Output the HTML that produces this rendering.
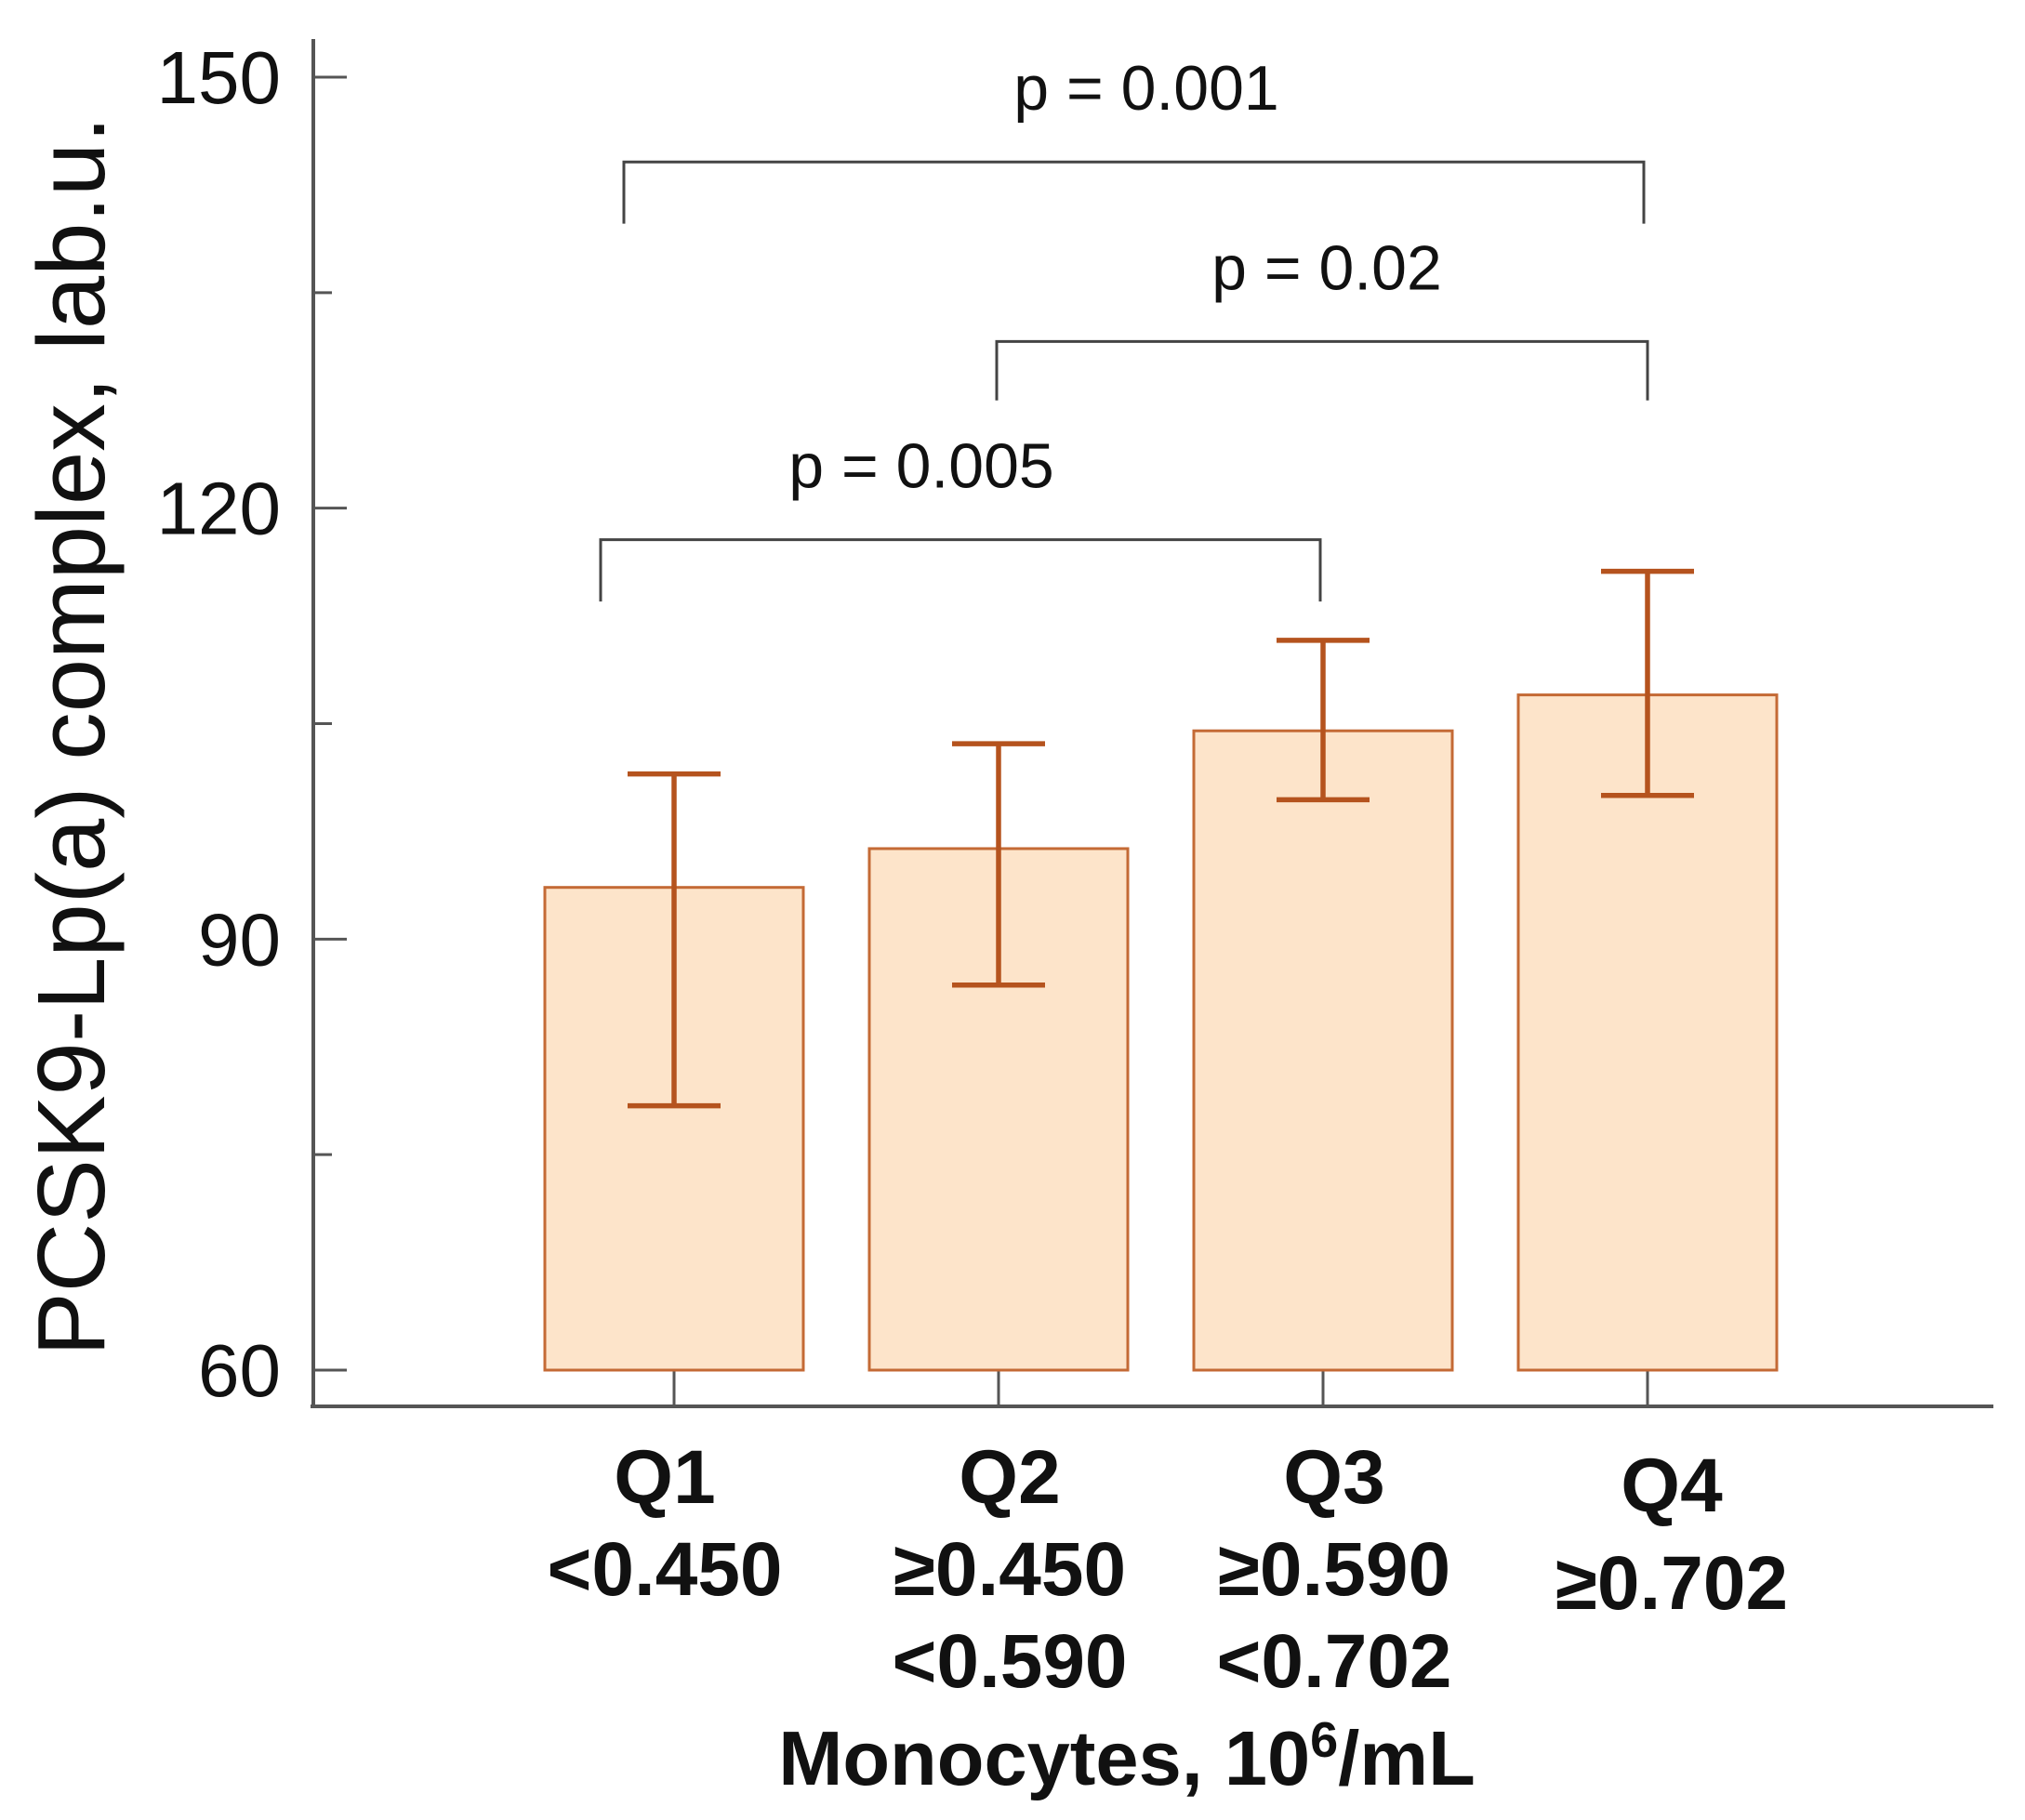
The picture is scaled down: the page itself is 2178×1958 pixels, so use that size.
<!DOCTYPE html>
<html><head><meta charset="utf-8"><style>
html,body{margin:0;padding:0;background:#fff;}
svg{display:block;font-family:"Liberation Sans",Arial,sans-serif;}
</style></head><body>
<svg id="chart" width="2178" height="1958" viewBox="0 0 2178 1958" xmlns="http://www.w3.org/2000/svg">
<g id="axes"></g><g id="bars"></g><g id="brackets"></g><g id="labels"></g>
</svg>
<script>
const categories = ["Q1","Q2","Q3","Q4"];
const catLines = [["Q1","<0.450"],["Q2","≥0.450","<0.590"],["Q3","≥0.590","<0.702"],["Q4","≥0.702"]];
const means = [93.6, 96.3, 104.5, 107.0];
const errUpper = [101.5, 103.6, 110.8, 115.6];
const errLower = [78.4, 86.8, 99.7, 100.0];
const majorTicks = [60, 90, 120, 150];
const minorTicks = [75, 105, 135];
const compLabels = ["p = 0.001", "p = 0.02", "p = 0.005"];
const bracketTop = [144.1, 131.6, 117.8];
const bracketBottom = [139.8, 127.5, 113.5];

const NS = "http://www.w3.org/2000/svg";
const yMin = 60, yMax = 150, yPxMin = 1474, yPxMax = 83;
function y(v){ return yPxMin - (v - yMin) * (yPxMin - yPxMax) / (yMax - yMin); }
const x0 = 725, step = 349;
function x(i){ return x0 + i * step; }
function mk(tag, attrs, parent, text){
  const e = document.createElementNS(NS, tag);
  for (const k in attrs) e.setAttribute(k, attrs[k]);
  if (text !== undefined) e.textContent = text;
  parent.appendChild(e); return e;
}
const axes = document.getElementById('axes'), bars = document.getElementById('bars'),
      br = document.getElementById('brackets'), lab = document.getElementById('labels');
const ac = "#555";
let e;
e = mk('line',{x1:337,y1:42,x2:337,y2:1513,stroke:ac,'stroke-width':4},axes);
 
e = mk('line',{x1:334,y1:1513,x2:2144,y2:1513,stroke:ac,'stroke-width':4},axes);
 
majorTicks.forEach(v=>{
  e = mk('line',{x1:337,y1:y(v),x2:373,y2:y(v),stroke:ac,'stroke-width':3},axes);
   
  e = mk('text',{x:302,y:y(v)+28,'text-anchor':'end','font-size':80,fill:'#111'},axes,String(v));
   
});
minorTicks.forEach(v=>{
  e = mk('line',{x1:337,y1:y(v),x2:357,y2:y(v),stroke:ac,'stroke-width':3},axes);
   
});
e = mk('text',{transform:'translate(112,792) rotate(-90)','text-anchor':'middle','font-size':103,fill:'#111'},axes,'PCSK9-Lp(a) complex, lab.u.');
 

const bw = 278, cap = 50, ec = "#b5531e";
categories.forEach((c,i)=>{
  e = mk('line',{x1:x(i),y1:1474,x2:x(i),y2:1513,stroke:ac,'stroke-width':3},axes);
   
  e = mk('rect',{x:x(i)-bw/2,y:y(means[i]),width:bw,height:y(yMin)-y(means[i]),fill:'#fde4ca',stroke:'#c46a35','stroke-width':3},bars);
   
  const g = mk('g',{stroke:ec,'stroke-width':5.5,fill:'none'},bars);
  
  
  mk('line',{x1:x(i),y1:y(errUpper[i]),x2:x(i),y2:y(errLower[i])},g);
  mk('line',{x1:x(i)-cap,y1:y(errUpper[i]),x2:x(i)+cap,y2:y(errUpper[i])},g);
  mk('line',{x1:x(i)-cap,y1:y(errLower[i]),x2:x(i)+cap,y2:y(errLower[i])},g);
  const base = i===3 ? 1626 : 1617;
  const gap = i===3 ? 105 : 99;
  catLines[i].forEach((t,k)=>{
    e = mk('text',{x:x(i)+(i===0?-10:i===3?26:12),y:base+k*gap,'text-anchor':'middle','font-size':82,'font-weight':'bold',fill:'#111'},lab,t);
     
  });
});
e = mk('text',{x:1212,y:1920,'text-anchor':'middle','font-size':83,'font-weight':'bold',fill:'#111'},lab,'Monocytes, 10');
 
mk('tspan',{dy:-30,'font-size':54},e,'6');
mk('tspan',{dy:30},e,'/mL');

const bracketX1 = [671, 1072, 646];
const bracketX2 = [1768, 1772, 1420];
const labelX = [1233, 1427, 991];
compLabels.forEach((t,k)=>{
  const yt = y(bracketTop[k]), yb = y(bracketBottom[k]);
  e = mk('path',{d:`M${bracketX1[k]},${yb} V${yt} H${bracketX2[k]} V${yb}`,fill:'none',stroke:'#444','stroke-width':3},br);
   
  e = mk('text',{x:labelX[k],y:yt-56,'text-anchor':'middle','font-size':68,fill:'#111'},br,t);
   
});
</script>
</body></html>
